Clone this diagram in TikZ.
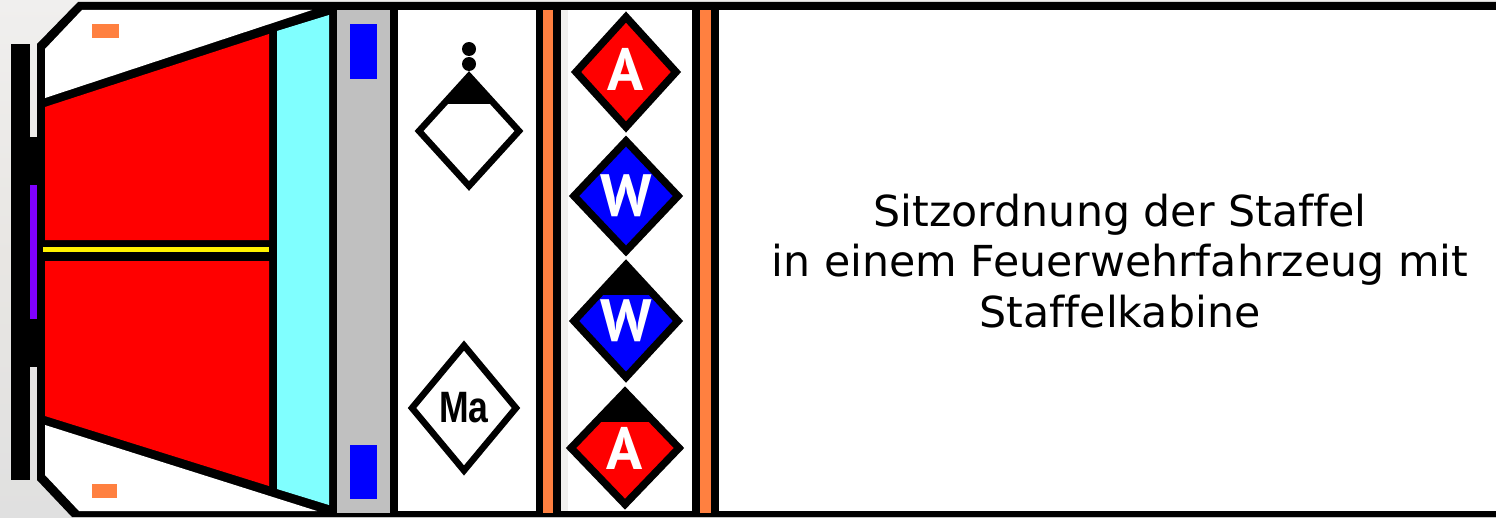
\documentclass[tikz,border=0pt]{standalone}
\usepackage{fontspec}
\usepackage{xcolor}
\usetikzlibrary{shapes.geometric}
\setmainfont[Ligatures=NoCommon]{DejaVu Sans}
\newfontfamily\seatfont{PT Sans}
\newfontfamily\driverfont{Liberation Sans}
\definecolor{bggray}{HTML}{E8E6E3}
\definecolor{bgtop}{HTML}{F0EFEE}
\definecolor{bgbottom}{HTML}{E0E0E0}
\definecolor{roofgray}{HTML}{C0C0C0}
\definecolor{glass}{HTML}{80FFFF}
\definecolor{stripe}{HTML}{FF8040}
\definecolor{beacon}{HTML}{8000FF}

\tikzset{
    seat/.style={diamond, draw=black, line width=0.15cm, outer sep=0pt, inner sep=0pt, aspect=1, text=white,
        font=\seatfont\bfseries\fontsize{34}{34}\selectfont},
    cap/.style={path picture={\fill[black] (path picture bounding box.north west) rectangle ([yshift=-#1 cm]path picture bounding box.north east);}},
    plain/.style={seat, fill=white, text=black, line width=0.13cm, font=\driverfont\bfseries\fontsize{25}{25}\selectfont}
}

\begin{document}
\begin{tikzpicture}[x=0.02cm, y=-0.02cm]
    \useasboundingbox (0,0) rectangle (1496,517);
    \shade[top color=bgtop, bottom color=bgbottom, middle color=bggray] (0,0) rectangle (1496,517);
    % Body
    \fill[black] (78,2) -- (1496,2) -- (1496,517) -- (72,517) -- (37,480) -- (37,44) -- cycle;
    % Bumper and beacon
    \fill[black] (11,44) rectangle (30,480);
    \fill[black] (30,137) rectangle (37,367);
    \fill[beacon] (30,185) rectangle (37,319);
    % Front corners
    \fill[white] (45,49) -- (82,10) -- (312,10) -- (45,98) -- cycle;
    \fill[white] (45,425) -- (317,511) -- (79,511) -- (45,475) -- cycle;
    \fill[stripe] (92,24) rectangle (119,38);
    \fill[stripe] (92,484) rectangle (117,498);
    % Hood
    \fill[red] (45,107) -- (269,34) -- (269,240) -- (45,240) -- cycle;
    \fill[red] (45,261) -- (269,261) -- (269,486) -- (45,416) -- cycle;
    \fill[yellow] (43,247) rectangle (269,252);
    % Windscreen
    \fill[glass] (277,31) -- (329,15) -- (329,505) -- (277,489) -- cycle;
    % Roof
    \fill[roofgray] (337,10) rectangle (390,513);
    \fill[blue] (350,24) rectangle (377,79);
    \fill[blue] (350,445) rectangle (377,499);
    % Rooms
    \fill[white] (398,10) rectangle (536,511);
    \fill[stripe] (543,10) rectangle (553,513);
    \fill[white] (561,10) rectangle (692,511);
    \fill[bggray!60] (561,10) rectangle (568,511);
    \fill[stripe] (700,10) rectangle (711,513);
    \fill[white] (719,10) rectangle (1496,511);
    % Seats
    \node[plain, cap=0.56, minimum width=2.0cm, minimum height=2.2cm] (leader) at (469,131) {};
    \fill (469,49) circle (7);
    \fill (469,64) circle (7);
    \node[plain, minimum width=2.08cm, minimum height=2.5cm] (machinist) at (464,408) {\scalebox{0.81}[1]{Ma}};
    \node[seat, fill=red, minimum width=2.0cm, minimum height=2.2cm] (attack) at (626,72) {\raisebox{0.12cm}{A}};
    \node[seat, fill=blue, minimum width=2.08cm, minimum height=2.2cm] (water) at (626,196) {\raisebox{-0.04cm}{W}};
    \node[seat, fill=blue, cap=0.6, minimum width=2.08cm, minimum height=2.25cm] (waterleader) at (626,321) {\raisebox{-0.1cm}{W}};
    \node[seat, fill=red, cap=0.6, minimum width=2.16cm, minimum height=2.25cm] (attackleader) at (625,448) {\raisebox{-0.1cm}{A}};
    % Caption
    \node[align=center, font=\fontsize{24.3}{28.6}\selectfont] (caption) at (1120,261) {Sitzordnung der Staffel\\in einem Feuerwehrfahrzeug mit\\Staffelkabine};
\end{tikzpicture}
\end{document}
